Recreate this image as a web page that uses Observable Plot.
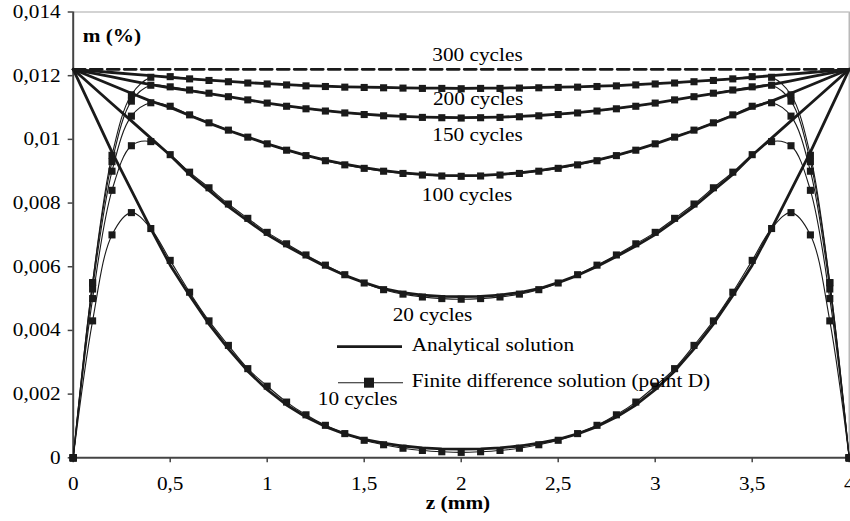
<!DOCTYPE html>
<html><head><meta charset="utf-8">
<script src="https://cdn.jsdelivr.net/npm/d3@7"></script>
<script src="https://cdn.jsdelivr.net/npm/@observablehq/plot@0.6"></script>
<style>
body{margin:0;background:#fff}
svg{font-family:"Liberation Serif","Times New Roman",serif}
</style>
</head><body><div id="chart"></div>
<script>
// z positions (mm)
const z = [0,0.1,0.2,0.3,0.4,0.5,0.6,0.7,0.8,0.9,1,1.1,1.2,1.3,1.4,1.5,1.6,1.7,1.8,1.9,2,2.1,2.2,2.3,2.4,2.5,2.6,2.7,2.8,2.9,3,3.1,3.2,3.3,3.4,3.5,3.6,3.7,3.8,3.9,4];

// Analytical solution, m (%)
const A10 = [0.0122,0.0109,0.0096,0.0084,0.0072,0.00605,0.0051,0.0042,0.00342,0.00272,0.00214,0.00166,0.00128,0.00098,0.00075,0.00058,0.00046,0.00037,0.00031,0.00028,0.00027,0.00028,0.00031,0.00037,0.00046,0.00058,0.00075,0.00098,0.00128,0.00166,0.00214,0.00272,0.00342,0.0042,0.0051,0.00605,0.0072,0.0084,0.0096,0.0109,0.0122];
const A20 = [0.0122,0.01166,0.01112,0.01058,0.01004,0.0095,0.0089,0.0084,0.00789,0.00744,0.00701,0.00665,0.00632,0.00601,0.00573,0.0055,0.00531,0.00519,0.00511,0.00507,0.00506,0.00507,0.00511,0.00519,0.00531,0.0055,0.00573,0.00601,0.00632,0.00665,0.00701,0.00744,0.00789,0.0084,0.0089,0.0095,0.01004,0.01058,0.01112,0.01166,0.0122];
const A100 = [0.0122,0.01195,0.0117,0.01145,0.0112,0.011,0.01075,0.01051,0.01028,0.01007,0.00986,0.00967,0.0095,0.00935,0.00922,0.00911,0.00902,0.00895,0.0089,0.00887,0.00886,0.00887,0.0089,0.00895,0.00902,0.00911,0.00922,0.00935,0.0095,0.00967,0.00986,0.01007,0.01028,0.01051,0.01075,0.011,0.0112,0.01145,0.0117,0.01195,0.0122];
const A150 = [0.0122,0.01208,0.01196,0.01184,0.01172,0.01162,0.01153,0.01144,0.01134,0.01124,0.01114,0.01105,0.01097,0.0109,0.01084,0.01079,0.01075,0.01072,0.0107,0.01069,0.01068,0.01069,0.0107,0.01072,0.01075,0.01079,0.01084,0.0109,0.01097,0.01105,0.01114,0.01124,0.01134,0.01144,0.01153,0.01162,0.01172,0.01184,0.01196,0.01208,0.0122];
const A200 = [0.0122,0.01215,0.0121,0.01205,0.012,0.01195,0.0119,0.01186,0.01182,0.01178,0.01175,0.01172,0.01169,0.01167,0.01165,0.01164,0.01163,0.01162,0.01161,0.01161,0.0116,0.01161,0.01161,0.01162,0.01163,0.01164,0.01165,0.01167,0.01169,0.01172,0.01175,0.01178,0.01182,0.01186,0.0119,0.01195,0.012,0.01205,0.0121,0.01215,0.0122];
const A300 = [0.0122,0.0122,0.0122,0.0122,0.0122,0.0122,0.0122,0.0122,0.0122,0.0122,0.0122,0.0122,0.0122,0.0122,0.0122,0.0122,0.0122,0.0122,0.0122,0.0122,0.0122,0.0122,0.0122,0.0122,0.0122,0.0122,0.0122,0.0122,0.0122,0.0122,0.0122,0.0122,0.0122,0.0122,0.0122,0.0122,0.0122,0.0122,0.0122,0.0122,0.0122];

// Finite difference solution (point D), m (%)
const F10 = [0,0.0043,0.007,0.0077,0.0072,0.0062,0.0052,0.0043,0.00353,0.0028,0.00225,0.00175,0.00135,0.00102,0.00076,0.00055,0.00041,0.0003,0.00023,0.00019,0.00017,0.00019,0.00023,0.0003,0.00041,0.00055,0.00076,0.00102,0.00135,0.00175,0.00225,0.0028,0.00353,0.0043,0.0052,0.0062,0.0072,0.0077,0.007,0.0043,0];
const F20 = [0,0.005,0.0084,0.0098,0.00993,0.00952,0.00897,0.00848,0.00797,0.00752,0.00708,0.00672,0.00637,0.00605,0.00575,0.00549,0.00528,0.00514,0.00505,0.005,0.00498,0.005,0.00505,0.00514,0.00528,0.00549,0.00575,0.00605,0.00637,0.00672,0.00708,0.00752,0.00797,0.00848,0.00897,0.00952,0.00993,0.0098,0.0084,0.005,0];
const F100 = [0,0.0053,0.009,0.01073,0.01115,0.01104,0.01077,0.01052,0.01029,0.01007,0.00986,0.00966,0.00949,0.00933,0.0092,0.00909,0.009,0.00893,0.00888,0.00885,0.00884,0.00885,0.00888,0.00893,0.009,0.00909,0.0092,0.00933,0.00949,0.00966,0.00986,0.01007,0.01029,0.01052,0.01077,0.01104,0.01115,0.01073,0.009,0.0053,0];
const F150 = [0,0.0055,0.0093,0.0112,0.0117,0.01165,0.01155,0.01145,0.01134,0.01124,0.01114,0.01104,0.01096,0.01089,0.01083,0.01078,0.01074,0.01071,0.01069,0.01068,0.01067,0.01068,0.01069,0.01071,0.01074,0.01078,0.01083,0.01089,0.01096,0.01104,0.01114,0.01124,0.01134,0.01145,0.01155,0.01165,0.0117,0.0112,0.0093,0.0055,0];
const F200 = [0,0.0055,0.0095,0.0114,0.01195,0.01197,0.0119,0.01185,0.01181,0.01177,0.01174,0.01171,0.01168,0.01166,0.01164,0.01163,0.01162,0.01161,0.0116,0.0116,0.01159,0.0116,0.0116,0.01161,0.01162,0.01163,0.01164,0.01166,0.01168,0.01171,0.01174,0.01177,0.01181,0.01185,0.0119,0.01197,0.01195,0.0114,0.0095,0.0055,0];

// Tick values
const xTicks = [0,0.5,1,1.5,2,2.5,3,3.5,4];
const yTicks = [0,0.002,0.004,0.006,0.008,0.01,0.012,0.014];

// Curve labels
const labelText = ["300 cycles","200 cycles","150 cycles","100 cycles","20 cycles","10 cycles"];
const labelZ = [2.084,2.087,2.084,2.03,1.852,1.466];
const labelM = [0.01266,0.01125,0.01012,0.00824,0.00447,0.00186];

const analytical = [{c:10,m:A10},{c:20,m:A20},{c:100,m:A100},{c:150,m:A150},{c:200,m:A200}];
const fd = [{c:10,m:F10},{c:20,m:F20},{c:100,m:F100},{c:150,m:F150},{c:200,m:F200}];
const aRows = analytical.flatMap(s => s.m.map((m,i) => ({z:z[i], m, c:s.c})));
const a300Rows = A300.map((m,i) => ({z:z[i], m}));
const fRows = fd.flatMap(s => s.m.map((m,i) => ({z:z[i], m, c:s.c})));
const labels = labelText.map((t,i) => ({t, z:labelZ[i], m:labelM[i]}));

const FS = 18.5, SX = 1.15;
const INK = "#1a1a1a";
const fmt = d => d === 0 ? "0" : String(+d.toFixed(3)).replace(".", ",");

const chart = Plot.plot({
  width: 850, height: 521,
  marginLeft: 72.7, marginRight: 1.3, marginTop: 11.5, marginBottom: 63.7,
  style: {fontFamily: '"Liberation Serif","Times New Roman",serif', fontSize: FS + "px", background: "#fff", color: "#000", overflow: "visible"},
  x: {domain: [0, 4]},
  y: {domain: [0, 0.014]},
  marks: [
    Plot.ruleY([0.014], {stroke: "#a8a8a8", strokeWidth: 1.2}),
    Plot.ruleX([4], {stroke: "#a8a8a8", strokeWidth: 1.2}),
    Plot.axisX({ticks: xTicks, tickFormat: fmt, tickSize: 5, tickPadding: 14, stroke: "#444", strokeWidth: 1.5, label: null, fontSize: FS}),
    Plot.axisY({ticks: yTicks, tickFormat: fmt, tickSize: 5, tickPadding: 7.5, stroke: "#444", strokeWidth: 1.5, label: null, fontSize: FS}),
    Plot.ruleX([0], {stroke: "#444", strokeWidth: 2}),
    Plot.ruleY([0], {stroke: "#444", strokeWidth: 2}),
    Plot.line(a300Rows, {x: "z", y: "m", stroke: INK, strokeWidth: 2.8, strokeDasharray: "12,5"}),
    Plot.line(aRows, {x: "z", y: "m", z: "c", stroke: INK, strokeWidth: 2.8}),
    Plot.line(fRows, {x: "z", y: "m", z: "c", stroke: INK, strokeWidth: 1.1, curve: "catmull-rom"}),
    Plot.dot(fRows, {x: "z", y: "m", symbol: "square", r: 4, fill: INK, stroke: null}),
    Plot.text(labels, {x: "z", y: "m", text: "t", fontSize: FS, fill: "#000", textAnchor: "middle"})
  ]
});
document.getElementById("chart").appendChild(chart);

const svg = d3.select(chart);
// axis titles
svg.append("text").attr("transform", "translate(82.7,41.7)").attr("text-anchor", "start").attr("font-weight", "bold").attr("font-size", FS).attr("fill", "#000").text("m (%)");
svg.append("text").attr("transform", "translate(458,509)").attr("text-anchor", "middle").attr("font-weight", "bold").attr("font-size", FS).attr("fill", "#000").text("z (mm)");
// legend
const lg = svg.append("g").attr("text-anchor", "start");
lg.append("line").attr("x1", 337).attr("x2", 402).attr("y1", 346.7).attr("y2", 346.7).attr("stroke", INK).attr("stroke-width", 2.8);
lg.append("text").attr("transform", "translate(411.7,351)").attr("text-anchor", "start").attr("font-size", FS).attr("fill", "#000").text("Analytical solution");
lg.append("line").attr("x1", 338).attr("x2", 403).attr("y1", 382.7).attr("y2", 382.7).attr("stroke", INK).attr("stroke-width", 1.1);
lg.append("rect").attr("x", 364).attr("y", 377.7).attr("width", 10).attr("height", 10).attr("fill", INK);
lg.append("text").attr("transform", "translate(411.7,387)").attr("text-anchor", "start").attr("font-size", FS).attr("fill", "#000").text("Finite difference solution (point D)");

// horizontal stretch of text to match the reference typography
svg.selectAll("text").each(function() {
  const t = this.getAttribute("transform");
  if (t) this.setAttribute("transform", t + ` scale(${SX},1)`);
  else {
    const x = +this.getAttribute("x") || 0, y = +this.getAttribute("y") || 0;
    this.setAttribute("x", 0); this.setAttribute("y", 0);
    this.setAttribute("transform", `translate(${x},${y}) scale(${SX},1)`);
  }
});
</script>
</body></html>
